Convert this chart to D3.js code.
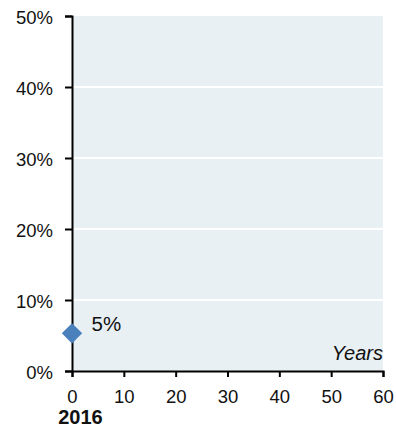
<!DOCTYPE html>
<html>
<head>
<meta charset="utf-8">
<script src="https://cdn.jsdelivr.net/npm/d3@7"></script>
<style>
  html, body { margin: 0; padding: 0; background: #fff; }
  svg { display: block; font-family: "Liberation Sans", Arial, sans-serif; }
</style>
</head>
<body>
<svg id="chart" width="396" height="427"></svg>
<script>
// Projection data
const years = [0];
const values = [5.3];
const startYear = "2016";
const xTicks = [0, 10, 20, 30, 40, 50, 60];
const yTicks = [0, 10, 20, 30, 40, 50];

const svg = d3.select("#chart");
const margin = { left: 72, right: 13, top: 16, bottom: 56 };
const W = 396, H = 427;
const FONT = "Liberation Sans, Arial, sans-serif";

const x = d3.scaleLinear().domain([0, 60]).range([margin.left, W - margin.right]);
const y = d3.scaleLinear().domain([0, 50]).range([H - margin.bottom, margin.top]);

// plot background
svg.append("rect")
  .attr("x", x(0)).attr("y", y(50))
  .attr("width", x(60) - x(0)).attr("height", y(0) - y(50))
  .attr("fill", "#e8f0f4");

// horizontal gridlines
svg.append("g").selectAll("line")
  .data(yTicks.filter(d => d > 0 && d < 50))
  .join("line")
  .attr("x1", x(0)).attr("x2", x(60))
  .attr("y1", d => y(d)).attr("y2", d => y(d))
  .attr("stroke", "#fff").attr("stroke-width", 2);

// y axis
const yAxis = svg.append("g")
  .attr("transform", `translate(${x(0)},0)`)
  .call(d3.axisLeft(y).tickValues(yTicks).tickFormat(d => d + "%").tickSize(7).tickPadding(12));
yAxis.select(".domain").attr("stroke", "#000").attr("stroke-width", 2);
yAxis.selectAll(".tick line").attr("stroke", "#000").attr("stroke-width", 2);
yAxis.selectAll(".tick text")
  .attr("font-size", 18.5).attr("fill", "#111").attr("font-family", FONT)
  .attr("dy", "0.42em");

// x axis
const xAxis = svg.append("g")
  .attr("transform", `translate(0,${y(0)})`)
  .call(d3.axisBottom(x).tickValues(xTicks).tickSize(6).tickPadding(19));
xAxis.select(".domain").attr("stroke", "#000").attr("stroke-width", 2);
xAxis.selectAll(".tick line").attr("stroke", "#000").attr("stroke-width", 2);
xAxis.selectAll(".tick text")
  .attr("font-size", 18.5).attr("fill", "#111").attr("font-family", FONT)
  .attr("dy", "0.4em");

// axis title
svg.append("text")
  .attr("x", x(60)).attr("y", y(0) - 11.5)
  .attr("text-anchor", "end")
  .attr("font-size", 20).attr("font-style", "italic").attr("fill", "#111")
  .text("Years");

// start year under the zero tick
svg.append("text")
  .attr("x", x(0) + 8.5).attr("y", 424)
  .attr("text-anchor", "middle")
  .attr("font-size", 20).attr("font-weight", "bold").attr("fill", "#111")
  .text(startYear);

// data point
const pts = years.map((d, i) => ({ year: d, value: values[i] }));
svg.append("g").selectAll("path")
  .data(pts)
  .join("path")
  .attr("transform", d => `translate(${x(d.year)},${y(d.value)})`)
  .attr("d", d3.symbol(d3.symbolDiamond2, 265)())
  .attr("fill", "#4a80bb");

svg.append("g").selectAll("text")
  .data(pts)
  .join("text")
  .attr("x", d => x(d.year) + 19.5).attr("y", d => y(d.value) - 2.5)
  .attr("font-size", 20.5).attr("fill", "#111")
  .text(d => d3.format(".0f")(d.value) + "%");
</script>
</body>
</html>
